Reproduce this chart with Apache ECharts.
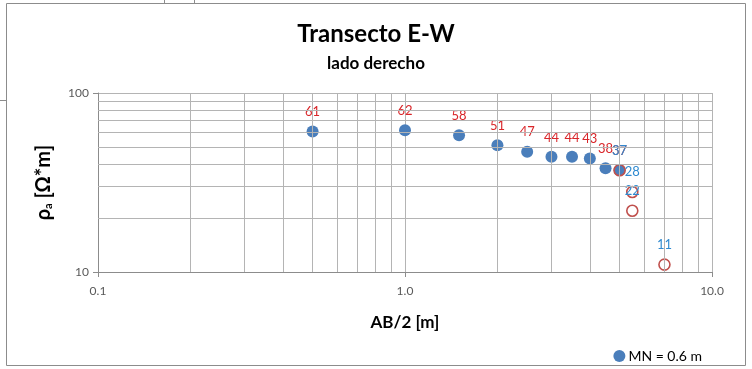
<!DOCTYPE html>
<html>
<head>
<meta charset="utf-8">
<script src="https://cdn.jsdelivr.net/npm/echarts@6/dist/echarts.min.js"></script>
<style>
  html, body { margin: 0; padding: 0; background: #fff; }
  #chart { width: 752px; height: 369px; }
</style>
</head>
<body>
<div id="chart"></div>
<script>
// Sondeo eléctrico vertical, transecto E-W (lado derecho)
const abHalf = [0.5, 1, 1.5, 2, 2.5, 3, 3.5, 4, 4.5, 5];
const rhoMN06 = [61, 62, 58, 51, 47, 44, 44, 43, 38, 37];
const abHalfExtra = [5, 5.5, 5.5, 7];
const rhoExtra = [37, 28, 22, 11];
const xMinorGrid = [0.2, 0.3, 0.4, 0.5, 0.6, 0.7, 0.8, 0.9, 2, 3, 4, 5, 6, 7, 8, 9];
const yMinorGrid = [20, 30, 40, 50, 60, 70, 80, 90];

const FONT = 'Lato';
const GRID_COLOR = '#b4b4b4';
const AXIS_COLOR = '#8c8c8c';

const mainPts = abHalf.map((x, i) => [x, rhoMN06[i]]);
const extraPts = abHalfExtra.map((x, i) => [x, rhoExtra[i]]);

const minorLines = xMinorGrid.map(v => ({ xAxis: v }))
  .concat(yMinorGrid.map(v => ({ yAxis: v })));

const chart = echarts.init(document.getElementById('chart'), null, { renderer: 'canvas' });

chart.setOption({
  animation: false,
  backgroundColor: '#fff',
  textStyle: { fontFamily: FONT },
  title: {
    text: 'Transecto E-W',
    subtext: 'lado derecho',
    left: 'center',
    top: 17,
    itemGap: 9,
    textStyle: { fontFamily: FONT, fontSize: 24, fontWeight: 'bold', color: '#000' },
    subtextStyle: { fontFamily: FONT, fontSize: 17, fontWeight: 'bold', color: '#000' }
  },
  legend: {
    right: 45,
    top: 344,
    icon: 'circle',
    itemWidth: 12,
    itemHeight: 12,
    itemGap: 6,
    data: ['MN = 0.6 m'],
    textStyle: { fontFamily: FONT, fontSize: 14, color: '#000', padding: [0, 0, 0, -2] }
  },
  grid: { left: 98, right: 40, top: 93, bottom: 97, containLabel: false },
  xAxis: {
    type: 'log',
    logBase: 10,
    min: 0.1,
    max: 10,
    name: 'AB/2 [m]',
    nameLocation: 'middle',
    nameGap: 42,
    nameTextStyle: { fontFamily: FONT, fontSize: 17, fontWeight: 'bold', color: '#000' },
    axisLine: { show: true, onZero: false, lineStyle: { color: AXIS_COLOR, width: 1 } },
    axisTick: { show: true, length: 5, lineStyle: { color: AXIS_COLOR } },
    axisLabel: {
      fontFamily: FONT, fontSize: 12, color: '#595959', margin: 13,
      formatter: v => Number(v).toFixed(1)
    },
    splitLine: { show: true, lineStyle: { color: GRID_COLOR, width: 1 } }
  },
  yAxis: {
    type: 'log',
    logBase: 10,
    min: 10,
    max: 100,
    name: '{r|ρ}{s|a}{r| [Ω*m]}',
    nameLocation: 'middle',
    nameGap: 44,
    nameRotate: 90,
    nameTextStyle: {
      color: '#000',
      rich: {
        r: { fontFamily: FONT, fontSize: 20, fontWeight: 'bold', color: '#000' },
        s: { fontFamily: FONT, fontSize: 11, fontWeight: 'bold', color: '#000', verticalAlign: 'bottom', padding: [8, 0, 0, 0] }
      }
    },
    axisLine: { show: true, onZero: false, lineStyle: { color: AXIS_COLOR, width: 1 } },
    axisTick: { show: true, length: 5, lineStyle: { color: AXIS_COLOR } },
    axisLabel: { fontFamily: FONT, fontSize: 12, color: '#595959', margin: 9 },
    splitLine: { show: true, lineStyle: { color: GRID_COLOR, width: 1 } }
  },
  graphic: [
    {
      type: 'rect', silent: true, z: -1,
      shape: { x: 6.5, y: 3.5, width: 739, height: 362 },
      style: { fill: 'none', stroke: '#8c8c8c', lineWidth: 1 }
    },
    { type: 'line', silent: true, shape: { x1: 164.5, y1: 0, x2: 164.5, y2: 3 }, style: { stroke: '#8c8c8c', lineWidth: 1 } },
    { type: 'line', silent: true, shape: { x1: 194.5, y1: 0, x2: 194.5, y2: 3 }, style: { stroke: '#8c8c8c', lineWidth: 1 } },
    { type: 'line', silent: true, shape: { x1: 0, y1: 100.5, x2: 6, y2: 100.5 }, style: { stroke: '#8c8c8c', lineWidth: 1 } }
  ],
  series: [
    {
      // minor log gridlines (2..9 within each decade)
      name: 'grid-minor',
      type: 'scatter',
      data: [],
      z: 1,
      silent: true,
      markLine: {
        silent: true,
        symbol: ['none', 'none'],
        label: { show: false },
        animation: false,
        lineStyle: { color: GRID_COLOR, type: 'solid', width: 1 },
        emphasis: { disabled: true },
        data: minorLines
      }
    },
    {
      name: 'MN = 0.6 m',
      type: 'scatter',
      data: mainPts,
      symbol: 'circle',
      symbolSize: 12,
      z: 3,
      itemStyle: { color: '#4a7ebb', opacity: 1 },
      label: {
        show: true,
        position: 'top',
        distance: 7,
        fontFamily: FONT,
        fontSize: 13,
        color: '#d9262a',
        formatter: p => String(p.value[1])
      }
    },
    {
      name: 'MN ext',
      type: 'scatter',
      data: extraPts,
      symbol: 'circle',
      symbolSize: 11,
      z: 4,
      itemStyle: { color: 'rgba(255,255,255,0)', borderColor: '#c0504d', borderWidth: 1.6, opacity: 1 },
      label: {
        show: true,
        position: 'top',
        distance: 7,
        fontFamily: FONT,
        fontSize: 13,
        color: '#2f8ad0',
        formatter: p => String(p.value[1])
      }
    }
  ]
});
</script>
</body>
</html>
